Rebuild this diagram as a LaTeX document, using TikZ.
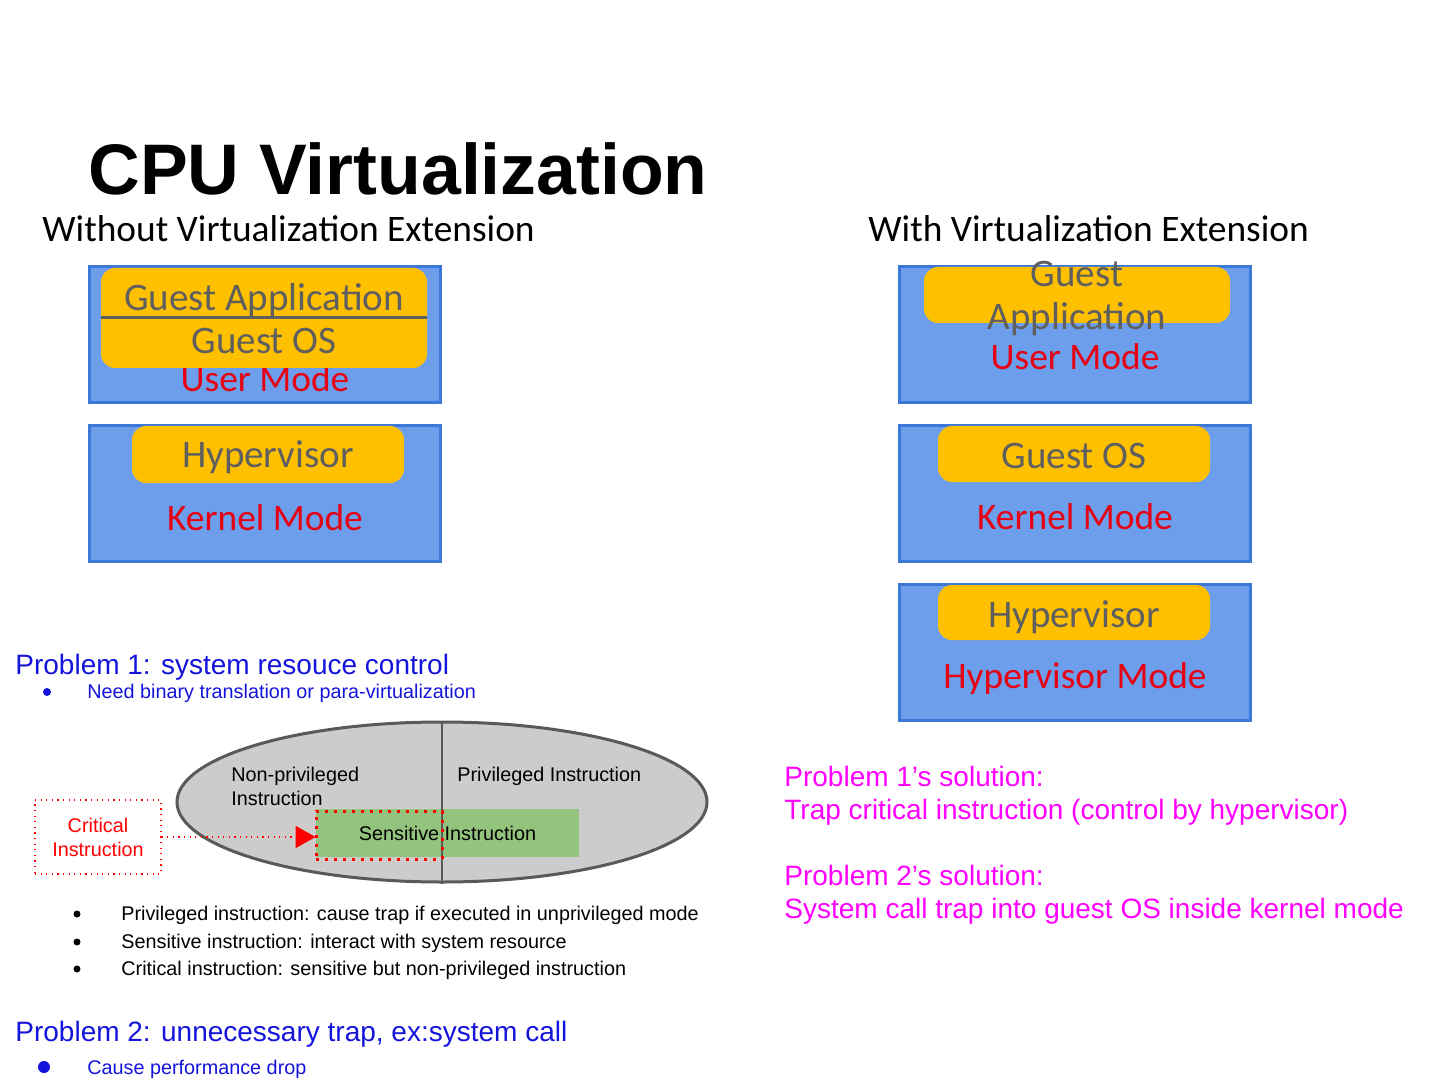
\documentclass[tikz,border=0pt]{standalone}
\usepackage{fontspec}
\setmainfont{Liberation Sans}
\newfontfamily\boxfont{Carlito}
\usepackage{tikz}
\usetikzlibrary{positioning, arrows.meta, shapes.geometric}
\definecolor{modeblue}{RGB}{109,158,235}
\definecolor{modeborder}{RGB}{60,120,216}
\definecolor{modered}{RGB}{230,0,18}
\definecolor{guestyellow}{RGB}{255,192,0}
\definecolor{guestgray}{RGB}{95,95,95}
\definecolor{probblue}{RGB}{20,20,220}
\definecolor{solmagenta}{RGB}{255,0,255}
\definecolor{ellgray}{RGB}{204,204,204}
\definecolor{ellborder}{RGB}{89,89,89}
\definecolor{sensgreen}{RGB}{147,196,125}
\tikzset{
  modebox/.style = {rectangle, draw=modeborder, fill=modeblue, line width=1.5pt,
                    minimum width=175.5pt, minimum height=68pt, inner sep=0pt},
  modelabel/.style = {text=modered, font=\boxfont\fontsize{18.7}{22}\selectfont,
                      inner sep=0pt, anchor=base},
  guestbox/.style = {rectangle, rounded corners=7pt, fill=guestyellow, inner sep=0pt},
  guestlabel/.style = {text=guestgray, font=\boxfont\fontsize{19.5}{23}\selectfont,
                       inner sep=0pt, anchor=base},
  headlabel/.style = {font=\boxfont\fontsize{18.7}{22}\selectfont, inner sep=0pt,
                      anchor=base west},
  problabel/.style = {text=probblue, font=\fontsize{14}{17}\selectfont, inner sep=0pt,
                      anchor=base west},
  sollabel/.style = {text=solmagenta, font=\fontsize{14}{17}\selectfont, inner sep=0pt,
                     anchor=base west},
  smalllabel/.style = {font=\fontsize{9.9}{12}\selectfont, inner sep=0pt, anchor=base west},
  bulletmark/.style = {circle, fill=black, inner sep=0pt, minimum size=3.5pt},
  dotbox/.style = {rectangle, draw=red, line width=0.6pt, dash pattern=on 0.6pt off 2.2pt,
                   inner sep=0pt},
  critarrow/.style = {draw=red, line width=0.6pt, dash pattern=on 0.6pt off 2.2pt,
                      -{Triangle[length=10pt, width=11pt, fill=red]}}
}
\begin{document}
\begin{tikzpicture}[x=0.5pt, y=-0.5pt, node distance=10pt]
\useasboundingbox[fill=white] (0,0) rectangle (1440,1080);

% title and column headings
\node[font=\bfseries\fontsize{35.8}{42}\selectfont, inner sep=0pt, anchor=base west]
  (title) at (88,195) {CPU Virtualization};
\node[headlabel] (headl) at (42,242) {Without Virtualization Extension};
\node[headlabel] (headr) at (868,242) {With Virtualization Extension};

% without extension
\node[modebox] (ubl) at (265,334.5) {};
\node[modebox, below=of ubl] (kbl) {};
\node[modelabel] (uml) at (265,392) {User Mode};
\node[modelabel] (kml) at (265,530) {Kernel Mode};
\node[guestbox, minimum width=163pt, minimum height=50pt] (gal) at (264,318) {};
\draw[guestgray, line width=1.5pt] (gal.west) -- (gal.east);
\node[guestlabel] (gatl) at (264,311) {Guest Application};
\node[guestlabel] (gotl) at (264,354) {Guest OS};
\node[guestbox, minimum width=136pt, minimum height=28.5pt] (hvl) at (268,454.5) {};
\node[guestlabel] (hvtl) at (268,467) {Hypervisor};

% with extension
\node[modebox] (ubr) at (1075,334.5) {};
\node[modebox, below=of ubr] (kbr) {};
\node[modebox, below=of kbr] (hbr) {};
\node[modelabel] (umr) at (1075,370) {User Mode};
\node[modelabel] (kmr) at (1075,529) {Kernel Mode};
\node[modelabel] (hmr) at (1075,688) {Hypervisor Mode};
\node[guestbox, minimum width=153pt, minimum height=28pt] (gar) at (1077,295) {};
\node[guestlabel] (gatr1) at (1077,287) {Guest};
\node[guestlabel] (gatr2) at (1077,330) {Application};
\node[guestbox, minimum width=136pt, minimum height=28pt] (gor) at (1074,454) {};
\node[guestlabel] (gotr) at (1074,468) {Guest OS};
\node[guestbox, minimum width=136pt, minimum height=27.5pt] (hvr) at (1074,612.5) {};
\node[guestlabel] (hvtr) at (1074,627) {Hypervisor};

% problem 1
\node[problabel] (p1) at (15,674) {Problem 1: system resouce control};
\node[bulletmark, fill=probblue, minimum size=4pt] (p1b) at (47,692) {};
\node[smalllabel, text=probblue] (p1t) at (87,698) {Need binary translation or para-virtualization};

% instruction sets
\node[ellipse, draw=ellborder, fill=ellgray, line width=1.5pt, minimum width=265pt,
      minimum height=80pt, inner sep=0pt] (ell) at (442,802) {};
\node[rectangle, fill=sensgreen, minimum width=131.5pt, minimum height=24pt,
      inner sep=0pt, font=\fontsize{9.9}{12}\selectfont] (sens) at (447.5,833) {Sensitive Instruction};
\draw[ellborder, line width=1pt] (ell.north) -- (ell.south);
\node[smalllabel] (np1) at (231,781) {Non-privileged};
\node[smalllabel] (np2) at (231,805) {Instruction};
\node[smalllabel] (priv) at (457,781) {Privileged Instruction};
\node[dotbox, line width=1.5pt, dash pattern=on 1.5pt off 3pt, minimum width=63pt,
      minimum height=24pt] (critsens) at (379,835) {};
\node[dotbox, minimum width=63pt, minimum height=37pt, align=center, text=red,
      font=\fontsize{9.9}{12}\selectfont] (crit) at (98,837) {Critical\\Instruction};
\draw[critarrow] (crit.east) -- (crit.east -| sens.west);

% definitions
\node[bulletmark] (d1b) at (77,914) {};
\node[smalllabel] (d1) at (121,920) {Privileged instruction: cause trap if executed in unprivileged mode};
\node[bulletmark] (d2b) at (77,942) {};
\node[smalllabel] (d2) at (121,948) {Sensitive instruction: interact with system resource};
\node[bulletmark] (d3b) at (77,969) {};
\node[smalllabel] (d3) at (121,975) {Critical instruction: sensitive but non-privileged instruction};

% problem 2
\node[problabel] (p2) at (15,1041) {Problem 2: unnecessary trap, ex:system call};
\node[bulletmark, fill=probblue, minimum size=6pt] (p2b) at (44,1067) {};
\node[smalllabel, text=probblue] (p2t) at (87,1074) {Cause performance drop};

% solutions
\node[sollabel] (s1a) at (784,786) {Problem 1’s solution:};
\node[sollabel] (s1b) at (784,819) {Trap critical instruction (control by hypervisor)};
\node[sollabel] (s2a) at (784,885) {Problem 2’s solution:};
\node[sollabel] (s2b) at (784,918) {System call trap into guest OS inside kernel mode};
\end{tikzpicture}
\end{document}
